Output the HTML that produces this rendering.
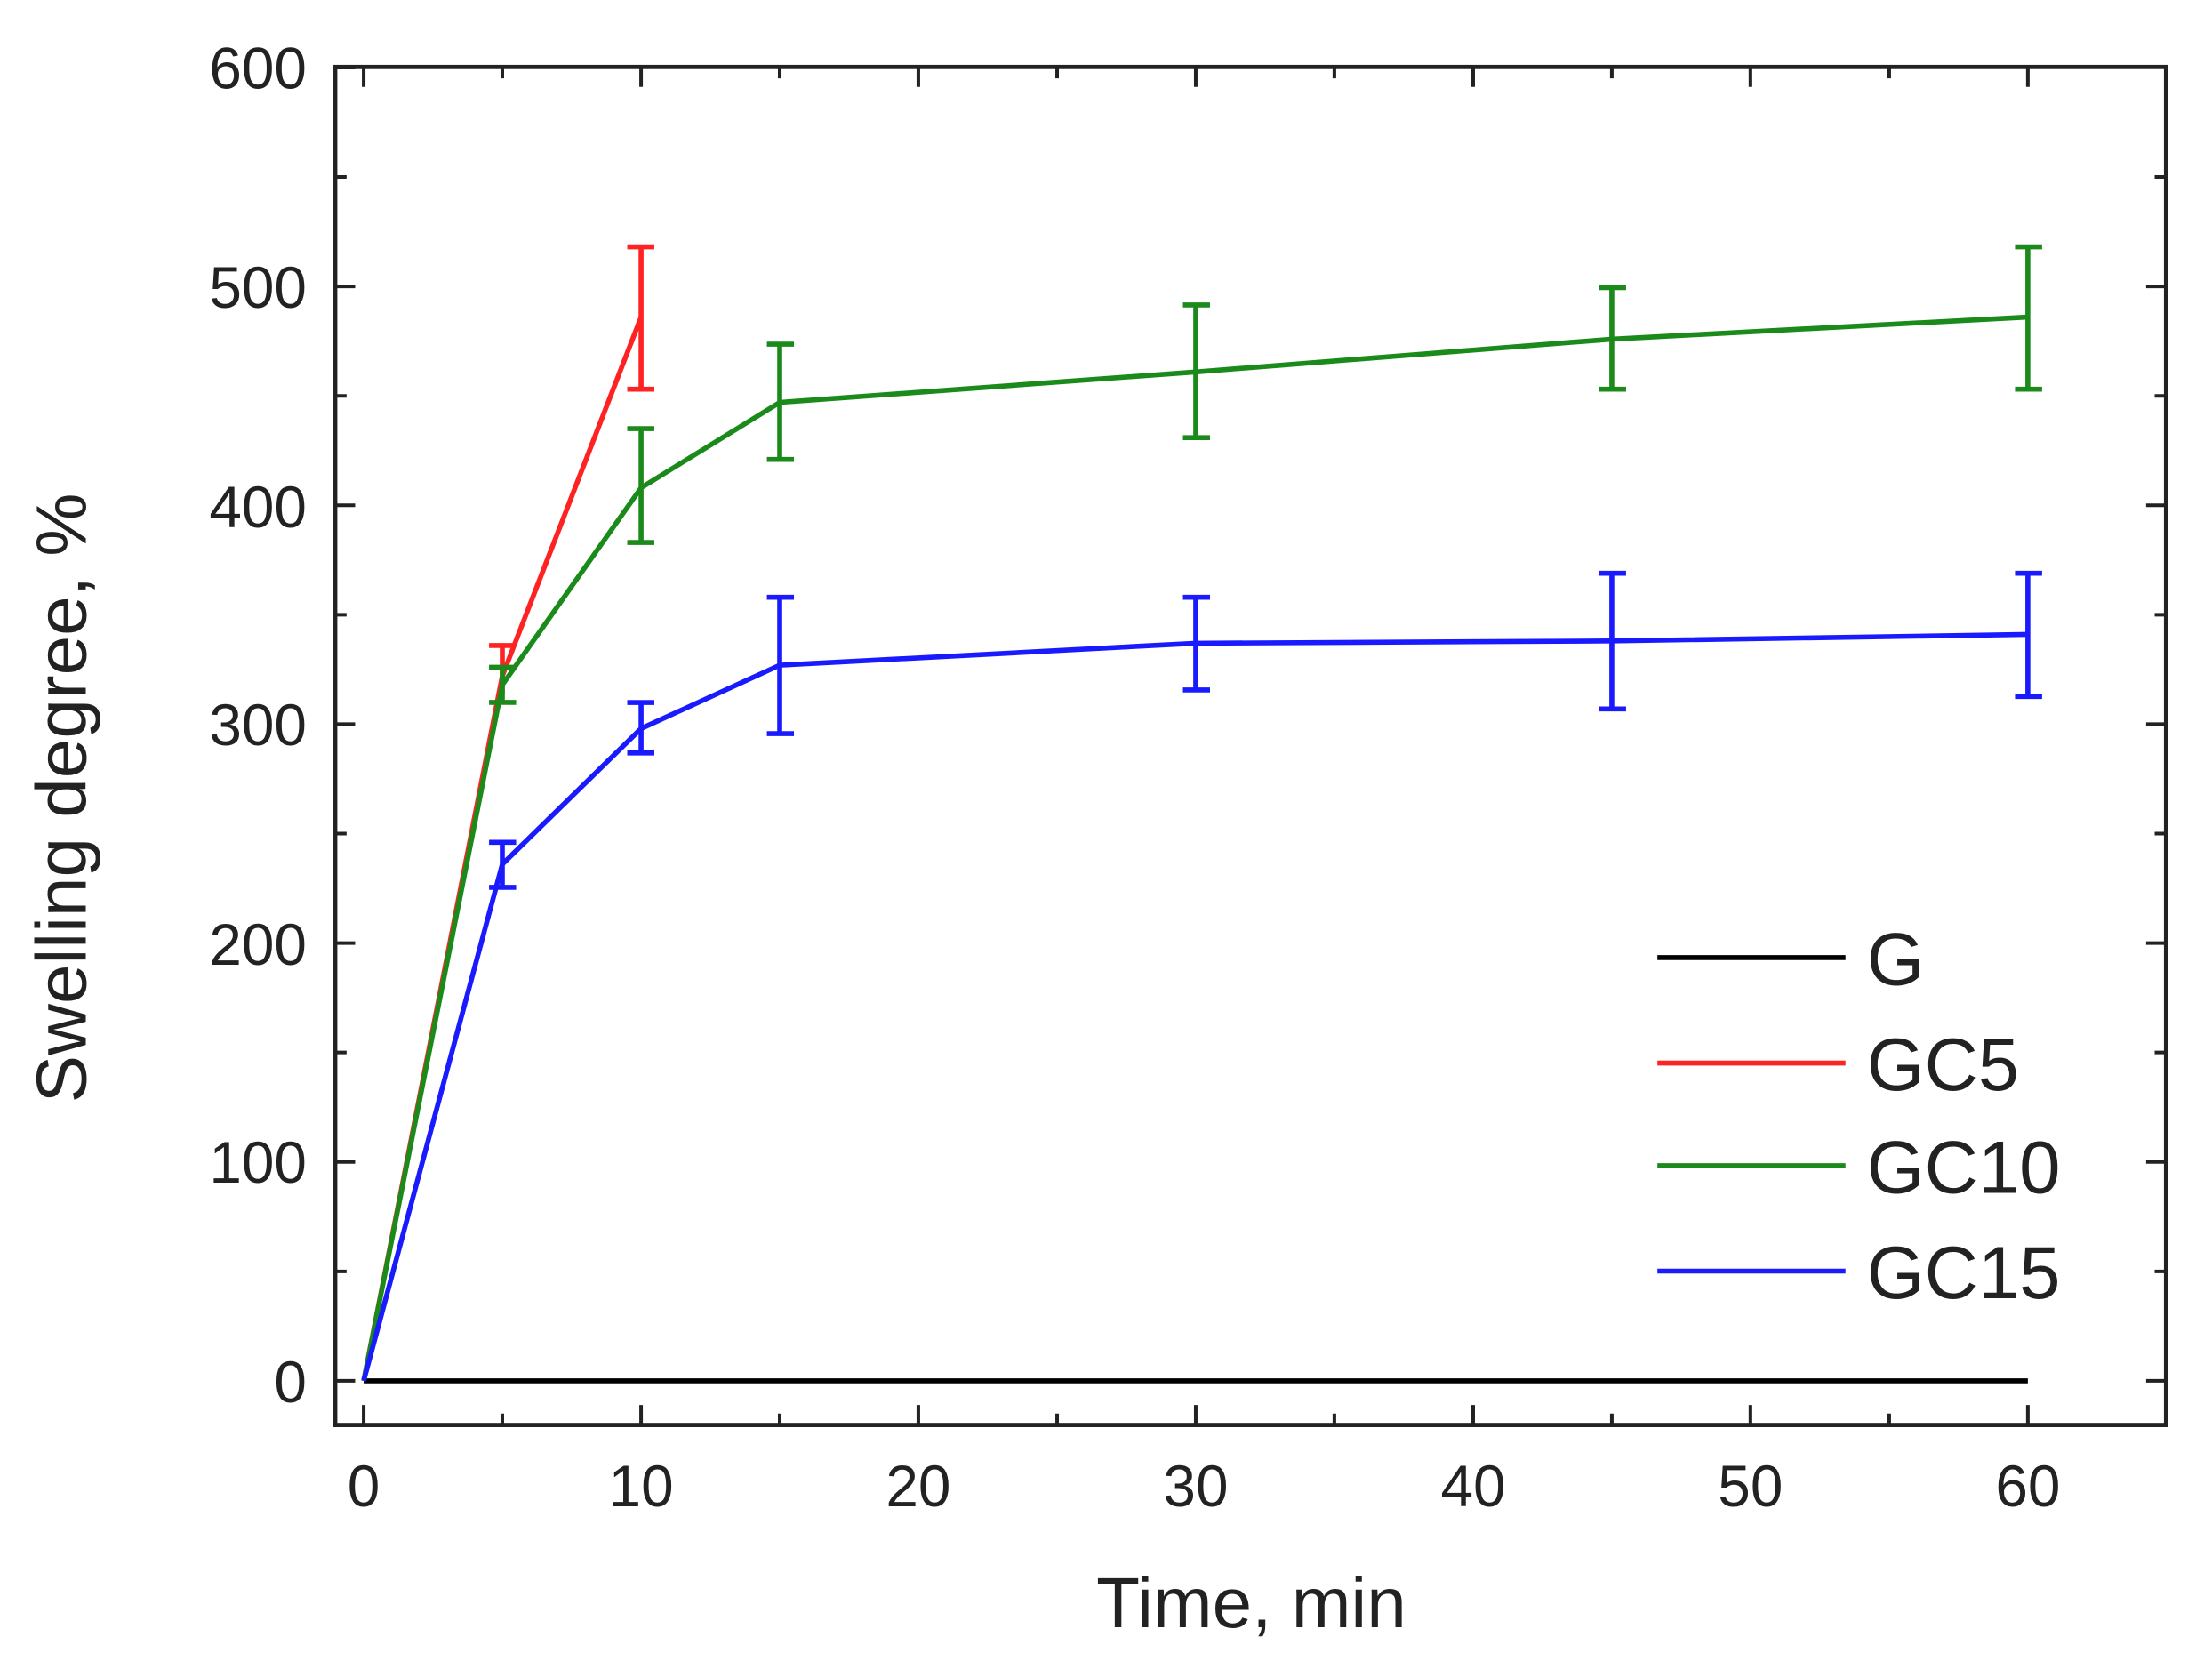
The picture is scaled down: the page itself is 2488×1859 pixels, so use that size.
<!DOCTYPE html>
<html><head><style>html,body{margin:0;padding:0;background:#fff}svg{display:block}</style></head>
<body>
<svg width="2488" height="1859" viewBox="0 0 1552 1160" xmlns="http://www.w3.org/2000/svg" font-family="Liberation Sans, Arial, sans-serif">
<rect width="1552" height="1160" fill="#fff"/>
<g stroke="#222" stroke-width="3" fill="none">
<rect x="235" y="47" width="1285" height="953"/>
</g>
<g stroke="#222" stroke-width="2.5">
<path d="M255 1000v-14M449.7 1000v-14M644.3 1000v-14M839 1000v-14M1033.7 1000v-14M1228.3 1000v-14M1423 1000v-14
M352.3 1000v-8M547 1000v-8M741.7 1000v-8M936.3 1000v-8M1131 1000v-8M1325.7 1000v-8
M255 47v14M449.7 47v14M644.3 47v14M839 47v14M1033.7 47v14M1228.3 47v14M1423 47v14
M352.3 47v8M547 47v8M741.7 47v8M936.3 47v8M1131 47v8M1325.7 47v8
M235 969h14M235 815.4h14M235 661.8h14M235 508.2h14M235 354.6h14M235 201h14M235 47.4h14
M235 892.2h8M235 738.6h8M235 585h8M235 431.4h8M235 277.8h8M235 124.2h8
M1520 969h-14M1520 815.4h-14M1520 661.8h-14M1520 508.2h-14M1520 354.6h-14M1520 201h-14
M1520 892.2h-8M1520 738.6h-8M1520 585h-8M1520 431.4h-8M1520 277.8h-8M1520 124.2h-8"/>
</g>
<g font-size="41" fill="#222" text-anchor="end">
<text x="215" y="984">0</text><text x="215" y="830">100</text><text x="215" y="677">200</text>
<text x="215" y="523">300</text><text x="215" y="370">400</text><text x="215" y="216">500</text><text x="215" y="62">600</text>
</g>
<g font-size="41" fill="#222" text-anchor="middle">
<text x="255" y="1057">0</text><text x="449.7" y="1057">10</text><text x="644.3" y="1057">20</text>
<text x="839" y="1057">30</text><text x="1033.7" y="1057">40</text><text x="1228.3" y="1057">50</text><text x="1423" y="1057">60</text>
</g>
<text x="878" y="1142" font-size="50" fill="#222" text-anchor="middle">Time, min</text>
<text transform="translate(60 560) rotate(-90)" font-size="50" fill="#222" text-anchor="middle">Swelling degree, %</text>
<path d="M255 969H1423" stroke="#000" stroke-width="3.5"/>
<g stroke="#f22" stroke-width="3.5" fill="none">
<path d="M255 969L352.3 474.4L449.7 222.5"/>
<path d="M352.3 486.7V453M343 453h18M449.7 273.1V173.2M440 173.2h19M440 273.1h19"/>
</g>
<g stroke="#1a8a1a" stroke-width="3.5" fill="none">
<path d="M255 969L352.3 480.6L449.7 342.3L547 282.4L839 261L1131 238L1423 222.5"/>
<path d="M352.3 468.3V492.9M343 468.3h19M343 492.9h19
M449.7 300.8V380.7M440 300.8h19M440 380.7h19
M547 241.5V322.4M538 241.5h19M538 322.4h19
M839 214V307.1M830 214h19M830 307.1h19
M1131 201.8V273.1M1122 201.8h19M1122 273.1h19
M1423 173.2V273.1M1414 173.2h19M1414 273.1h19"/>
</g>
<g stroke="#1a1aff" stroke-width="3.5" fill="none">
<path d="M255 969L352.3 606.5L449.7 511.3L547 466.8L839 451.4L1131 449.8L1423 445.2"/>
<path d="M352.3 591.1V622.7M343 591.1h19M343 622.7h19
M449.7 493V528.4M440 493h19M440 528.4h19
M547 419.1V514.8M538 419.1h19M538 514.8h19
M839 419.1V484.2M830 419.1h19M830 484.2h19
M1131 402.3V497.5M1122 402.3h19M1122 497.5h19
M1423 402.3V488.8M1414 402.3h19M1414 488.8h19"/>
</g>
<g stroke-width="3.5">
<path d="M1163 672H1295" stroke="#000"/>
<path d="M1163 746H1295" stroke="#f22"/>
<path d="M1163 818H1295" stroke="#1a8a1a"/>
<path d="M1163 892H1295" stroke="#1a1aff"/>
</g>
<g font-size="52" fill="#222">
<text x="1310" y="691">G</text><text x="1310" y="765">GC5</text>
<text x="1310" y="837">GC10</text><text x="1310" y="911">GC15</text>
</g>
</svg>
</body></html>
